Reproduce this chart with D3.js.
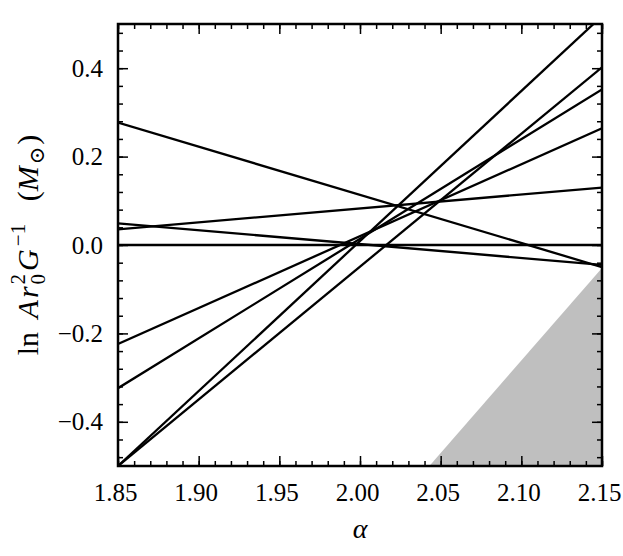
<!DOCTYPE html>
<html>
<head>
<meta charset="utf-8">
<script src="https://cdn.jsdelivr.net/npm/d3@7/dist/d3.min.js"></script>
<style>
  html, body { margin: 0; padding: 0; background: #fff; }
  svg { display: block; }
  svg text { font-family: "Liberation Serif", "DejaVu Serif", serif !important; fill: #000; }
</style>
</head>
<body>
<svg id="chart" width="623" height="556"></svg>
<script>
// ---- data ----
const alphaRange = [1.85, 2.15];
const lnRange = [-0.5, 0.5];
const lineStartLn = [0.277, 0.049, 0.0355, 0.0, -0.224, -0.324, -0.5, -0.5];   // at alpha = 1.85
const lineEndLn   = [-0.050, -0.045, 0.130, 0.0, 0.264, 0.352, 0.518, 0.402]; // at alpha = 2.15
const shadeAlpha = [2.043, 2.15, 2.15];
const shadeLn    = [-0.5, -0.052, -0.5];
const xTicks = [1.85, 1.90, 1.95, 2.00, 2.05, 2.10, 2.15];
const yTicks = [-0.4, -0.2, 0.0, 0.2, 0.4];
const xMinorStep = 0.01;
const yMinorStep = 0.04;

// ---- layout ----
const svg = d3.select("#chart");
const L = 118, R = 602, T = 24, B = 466;
const x = d3.scaleLinear().domain(alphaRange).range([L, R]);
const y = d3.scaleLinear().domain(lnRange).range([B, T]);

svg.append("defs").append("clipPath").attr("id", "clip")
  .append("rect").attr("x", L).attr("y", T).attr("width", R - L).attr("height", B - T);

const plot = svg.append("g").attr("clip-path", "url(#clip)");

// shaded region
const shadePts = shadeAlpha.map((a, i) => [x(a), y(shadeLn[i])]);
plot.append("path")
  .attr("d", d3.line()(shadePts) + "Z")
  .attr("fill", "#bfbfbf").attr("stroke", "none");

// lines
const lineGen = d3.line().x(d => x(d[0])).y(d => y(d[1]));
lineStartLn.forEach((s, i) => {
  plot.append("path")
    .attr("d", lineGen([[alphaRange[0], s], [alphaRange[1], lineEndLn[i]]]))
    .attr("fill", "none").attr("stroke", "#000").attr("stroke-width", 2.3);
});

// minor ticks
const xMinor = d3.range(Math.round((alphaRange[1] - alphaRange[0]) / xMinorStep) + 1)
  .map(i => +(alphaRange[0] + i * xMinorStep).toFixed(4));
const yMinor = d3.range(Math.round((lnRange[1] - lnRange[0]) / yMinorStep) + 1)
  .map(i => +(-0.48 + i * yMinorStep).toFixed(4)).filter(v => v >= -0.5 && v <= 0.5);

function styleAxis(g) {
  g.attr("font-family", null).attr("font-size", null);
  g.select(".domain").remove();
  g.selectAll(".tick line").attr("stroke", "#000").attr("stroke-width", 1.5);
  g.selectAll(".tick text").style("font-size", "25px")
    .style("font-family", "'Liberation Serif', serif").attr("fill", "#000");
}

const majLen = 10, minLen = 5;
// bottom
svg.append("g").attr("transform", `translate(0,${B})`)
  .call(d3.axisBottom(x).tickValues(xMinor).tickSize(-minLen).tickFormat(""))
  .call(styleAxis);
const xAx = svg.append("g").attr("transform", `translate(0,${B})`)
  .call(d3.axisBottom(x).tickValues(xTicks).tickSize(-majLen).tickPadding(17).tickFormat(d3.format(".2f")))
  .call(styleAxis);
xAx.selectAll(".tick text").attr("x", -3);
// top
svg.append("g").attr("transform", `translate(0,${T})`)
  .call(d3.axisTop(x).tickValues(xMinor).tickSize(-minLen).tickFormat(""))
  .call(styleAxis);
svg.append("g").attr("transform", `translate(0,${T})`)
  .call(d3.axisTop(x).tickValues(xTicks).tickSize(-majLen).tickFormat(""))
  .call(styleAxis);
// left
svg.append("g").attr("transform", `translate(${L},0)`)
  .call(d3.axisLeft(y).tickValues(yMinor).tickSize(-minLen).tickFormat(""))
  .call(styleAxis);
svg.append("g").attr("transform", `translate(${L},0)`)
  .call(d3.axisLeft(y).tickValues(yTicks).tickSize(-majLen).tickPadding(15).tickFormat(d3.format(".1f")))
  .call(styleAxis);
// right
svg.append("g").attr("transform", `translate(${R},0)`)
  .call(d3.axisRight(y).tickValues(yMinor).tickSize(-minLen).tickFormat(""))
  .call(styleAxis);
svg.append("g").attr("transform", `translate(${R},0)`)
  .call(d3.axisRight(y).tickValues(yTicks).tickSize(-majLen).tickFormat(""))
  .call(styleAxis);

// frame
svg.append("rect").attr("x", L).attr("y", T).attr("width", R - L).attr("height", B - T)
  .attr("fill", "none").attr("stroke", "#000").attr("stroke-width", 2.5);

// x label
svg.append("text").attr("x", (L + R) / 2).attr("y", 538)
  .attr("text-anchor", "middle").style("font-size", "28px").style("font-style", "italic")
  .text("α");

// y label built piece by piece
const fs = 30, sfs = 21;
const yl = svg.append("g");
const inner = yl.append("g");
let cx = 0;
function piece(t, italic, size, dy) {
  const el = inner.append("text").attr("x", cx).attr("y", dy || 0)
    .style("font-size", size + "px").style("font-style", italic ? "italic" : "normal").text(t);
  return el.node().getComputedTextLength();
}
cx += piece("ln", false, fs);
cx += fs * 0.45;
cx += piece("A", true, fs) + 2;
cx += piece("r", true, fs) + 2;
{
  const w1 = piece("2", false, sfs, -13);
  const w2 = piece("0", false, sfs, 7);
  cx += Math.max(w1, w2) + 3;
}
cx += piece("G", true, fs) + 3;
cx += piece("−1", false, sfs, -13);
cx += fs * 0.75;
cx += piece("(", false, fs);
cx += piece("M", true, fs) + 2;
cx += piece("⊙", false, sfs, 6) + 2;
cx += piece(")", false, fs);
inner.attr("transform", `translate(${-cx / 2},0)`);
yl.attr("transform", `translate(38,${(T + B) / 2}) rotate(-90)`);
</script>
</body>
</html>
